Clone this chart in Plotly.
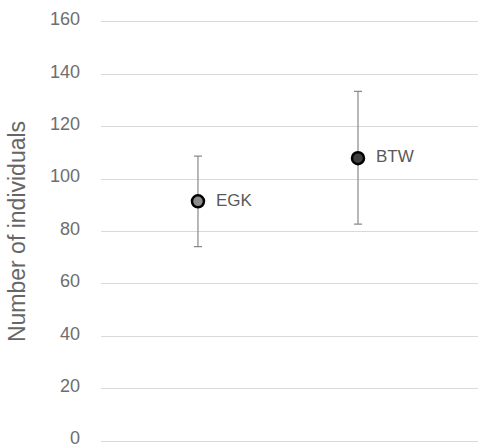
import plotly.graph_objects as go

sites = ["EGK", "BTW"]
x_pos = [1, 2]
means = [91.5, 108.0]
upper = [108.8, 133.5]
lower = [74.2, 82.8]
fill_colors = ["#8c8c8c", "#3f3f3f"]
y_ticks = [0, 20, 40, 60, 80, 100, 120, 140, 160]

err_plus = [u - m for u, m in zip(upper, means)]
err_minus = [m - l for m, l in zip(means, lower)]
labels = ["  " + s for s in sites]

fig = go.Figure()
fig.add_trace(go.Scatter(
    x=x_pos, y=means, mode="markers+text",
    text=labels, textposition="middle right",
    textfont=dict(family="Liberation Sans, Arial, sans-serif", size=17, color="#595959"),
    marker=dict(size=12, color=fill_colors, line=dict(color="#000000", width=2.5)),
    error_y=dict(type="data", symmetric=False, array=err_plus, arrayminus=err_minus,
                 color="#8a8a8a", thickness=1.2, width=4),
    showlegend=False, cliponaxis=False,
))

fig.update_layout(
    width=478, height=446,
    margin=dict(l=101, r=0, t=19, b=2),
    paper_bgcolor="white", plot_bgcolor="white",
    font=dict(family="Liberation Sans, Arial, sans-serif", color="#666666"),
    xaxis=dict(range=[0.394, 2.75], showgrid=False, zeroline=False,
               showticklabels=False, showline=False, ticks=""),
    yaxis=dict(range=[-1.1, 161.1], tickvals=y_ticks, showgrid=True, gridcolor="#d9d9d9",
               gridwidth=1, zeroline=False, showline=False,
               tickfont=dict(size=18, color="#6e6e6e"),
               ticklabelstandoff=20, ticklabeloverflow="allow", ticklabelshift=-3,
               automargin=False,
               title=dict(text="Number of individuals", font=dict(size=23, color="#666666"),
                          standoff=17)),
)

fig.write_html("out.html")
